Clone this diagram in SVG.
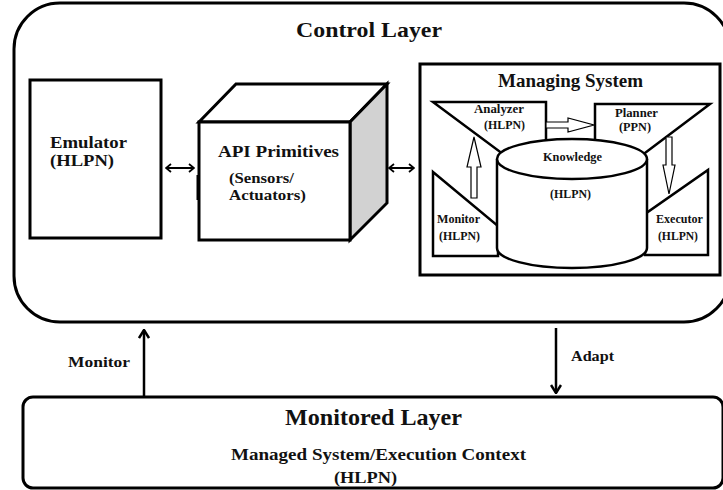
<svg xmlns="http://www.w3.org/2000/svg" width="723" height="490" viewBox="0 0 723 490">
<defs>
<style>
text{font-family:"Liberation Serif","Times New Roman",serif;font-weight:bold;fill:#111;}
.box{fill:#fff;stroke:#000;stroke-width:3;}
.shape{fill:#fff;stroke:#000;stroke-width:2.5;stroke-linejoin:miter;}
.hollow{fill:#fff;stroke:#000;stroke-width:1.2;}
.conn{fill:none;stroke:#000;stroke-width:2.5;}
.conn2{fill:none;stroke:#000;stroke-width:2;}
</style>
<marker id="bigHead" viewBox="0 0 12 12" refX="11" refY="6" markerWidth="12" markerHeight="12" markerUnits="userSpaceOnUse" orient="auto-start-reverse">
<path d="M3,1 L11,6 L3,11" fill="none" stroke="#000" stroke-width="2.5"/>
</marker>
<marker id="smallHead" viewBox="0 0 8 10" refX="7" refY="5" markerWidth="8" markerHeight="10" markerUnits="userSpaceOnUse" orient="auto-start-reverse">
<path d="M2,1 L7,5 L2,9" fill="none" stroke="#000" stroke-width="1.8"/>
</marker>
</defs>
<rect width="723" height="490" fill="#fff"/>

<g id="control-layer">
<rect class="box" x="14" y="3" width="716" height="319" rx="46" ry="46"/>
<text x="296" y="37" font-size="22" textLength="146" lengthAdjust="spacingAndGlyphs">Control Layer</text>
</g>

<g id="emulator">
<rect class="box" x="30" y="80" width="131" height="158"/>
<text x="50" y="148" font-size="17" textLength="77" lengthAdjust="spacingAndGlyphs">Emulator</text>
<text x="50" y="166" font-size="17" textLength="64" lengthAdjust="spacingAndGlyphs">(HLPN)</text>
</g>

<g id="api-primitives">
<polygon class="box" points="199,122 236,84 387,84 350,122"/>
<polygon class="box" points="350,122 387,84 387,203 350,240" style="fill:#d2d2d2"/>
<rect class="box" x="199" y="122" width="151" height="118"/>
<line x1="198" y1="175" x2="198" y2="200" stroke="#000" stroke-width="3"/>
<text x="218" y="157" font-size="16" textLength="121" lengthAdjust="spacingAndGlyphs">API  Primitives</text>
<text x="229" y="183" font-size="14.5" textLength="65" lengthAdjust="spacingAndGlyphs">(Sensors/</text>
<text x="229" y="200" font-size="14.5" textLength="77" lengthAdjust="spacingAndGlyphs">Actuators)</text>
</g>

<g id="managing-system">
<rect class="box" x="420" y="64" width="300" height="211"/>
<text x="498" y="87" font-size="18" textLength="145" lengthAdjust="spacingAndGlyphs">Managing System</text>
</g>

<g id="analyzer">
<polygon class="shape" points="433,102 546,102 546,160 511,160"/>
<text x="474" y="113" font-size="12.5" textLength="50" lengthAdjust="spacingAndGlyphs">Analyzer</text>
<text x="484" y="129" font-size="12.5" textLength="41" lengthAdjust="spacingAndGlyphs">(HLPN)</text>
</g>

<g id="planner">
<polygon class="shape" points="595,104 710,104 633,162 595,162"/>
<text x="615" y="117" font-size="12.5" textLength="43" lengthAdjust="spacingAndGlyphs">Planner</text>
<text x="619" y="131" font-size="12.5" textLength="32" lengthAdjust="spacingAndGlyphs">(PPN)</text>
</g>

<g id="monitor">
<polygon class="shape" points="433,172 498,226 498,256 433,256"/>
<text x="437" y="223" font-size="12.5" textLength="43" lengthAdjust="spacingAndGlyphs">Monitor</text>
<text x="439" y="240" font-size="12.5" textLength="41" lengthAdjust="spacingAndGlyphs">(HLPN)</text>
</g>

<g id="executor">
<polygon class="shape" points="708,170 708,255 645,255 645,214"/>
<text x="656" y="223" font-size="12.5" textLength="47" lengthAdjust="spacingAndGlyphs">Executor</text>
<text x="658" y="240" font-size="12.5" textLength="40" lengthAdjust="spacingAndGlyphs">(HLPN)</text>
</g>

<g id="knowledge">
<path class="shape" d="M497,159 A75,20 0 0,1 647,159 L647,248 A75,20 0 0,1 497,248 Z"/>
<path class="shape" d="M497,159 A75,20 0 0,0 647,159" fill="none"/>
<text x="543" y="161" font-size="12.5" textLength="59" lengthAdjust="spacingAndGlyphs">Knowledge</text>
<text x="550" y="198" font-size="12.5" textLength="41" lengthAdjust="spacingAndGlyphs">(HLPN)</text>
</g>

<g id="monitored-layer">
<rect class="box" x="23" y="397" width="700" height="91" rx="10" ry="10"/>
<text x="285" y="425" font-size="23" textLength="177" lengthAdjust="spacingAndGlyphs">Monitored Layer</text>
<text x="231" y="460" font-size="17" textLength="295" lengthAdjust="spacingAndGlyphs">Managed System/Execution Context</text>
<text x="334" y="483" font-size="17" textLength="63" lengthAdjust="spacingAndGlyphs">(HLPN)</text>
</g>

<g id="connectors">
<line class="conn2" x1="166" y1="168" x2="194" y2="168" marker-start="url(#smallHead)" marker-end="url(#smallHead)"/>
<line class="conn2" x1="389" y1="168" x2="414" y2="168" marker-start="url(#smallHead)" marker-end="url(#smallHead)"/>
<polygon class="hollow" points="471,198 471,167 467,167 474,137 481,167 477,167 477,198"/>
<polygon class="hollow" points="546,122 568,122 568,118 594,125 568,132 568,128 546,128"/>
<polygon class="hollow" points="666,137 666,165 663,165 669,194 675,165 672,165 672,137"/>
<line class="conn" x1="144" y1="396" x2="144" y2="330" marker-end="url(#bigHead)"/>
<line class="conn" x1="556" y1="328" x2="556" y2="393" marker-end="url(#bigHead)"/>
<text x="68" y="367" font-size="15" textLength="62" lengthAdjust="spacingAndGlyphs">Monitor</text>
<text x="571" y="361" font-size="15" textLength="43" lengthAdjust="spacingAndGlyphs">Adapt</text>
</g>
</svg>
